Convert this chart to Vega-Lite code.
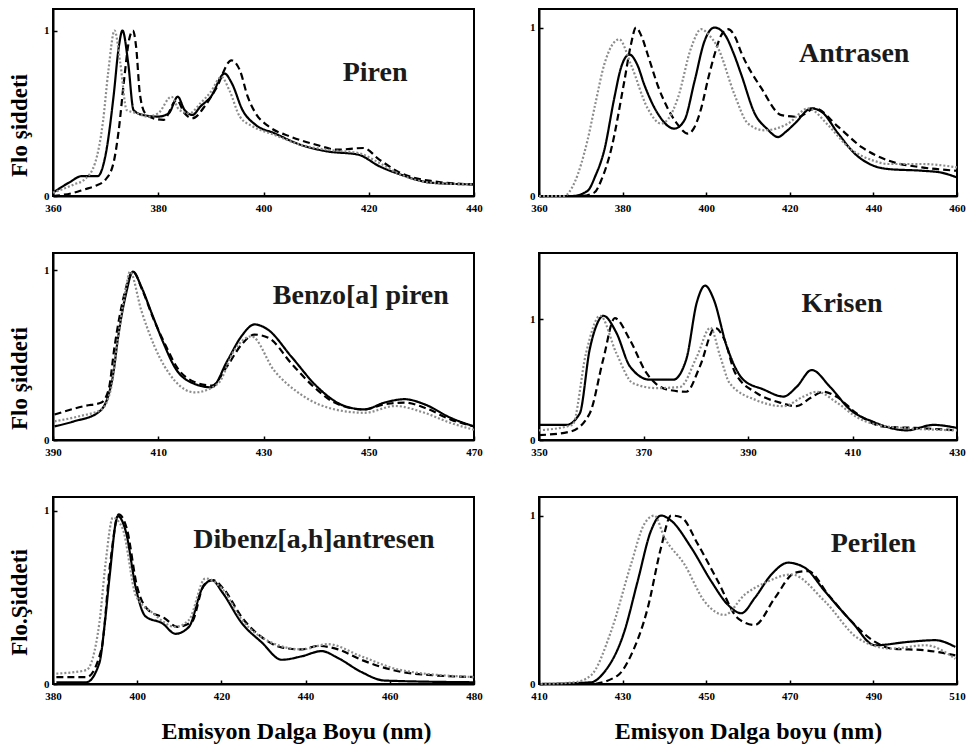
{
  "$schema": "https://vega.github.io/schema/vega-lite/v6.json",
  "background": "white",
  "padding": {"left": 7, "top": 8, "right": 10, "bottom": 4},
  "config": {
    "view": {"stroke": "black", "strokeWidth": 2},
    "text": {"font": "Liberation Serif"},
    "axis": {"labelFont": "Liberation Serif", "labelFontWeight": "bold", "labelFontSize": 11, "labelColor": "black", "titleFont": "Liberation Serif", "titleFontWeight": "bold", "titleColor": "black", "domainColor": "black", "domainWidth": 2, "tickColor": "black", "tickSize": -4, "tickWidth": 1.5, "grid": false, "labelFlush": false, "labelOverlap": false, "format": "d"},
    "axisX": {"labelPadding": 10},
    "axisY": {"titleFontSize": 23, "titlePadding": 12, "labelPadding": 8, "titleY": 116}
  },
  "datasets": {
    "curves": [
      {"p":1,"s":"a","x":360,"y":0.02},{"p":1,"s":"a","x":363,"y":0.08},{"p":1,"s":"a","x":365.5,"y":0.12},{"p":1,"s":"a","x":368.5,"y":0.12},{"p":1,"s":"a","x":370,"y":0.25},{"p":1,"s":"a","x":371.5,"y":0.6},{"p":1,"s":"a","x":372.5,"y":0.9},{"p":1,"s":"a","x":373.2,"y":1.0},{"p":1,"s":"a","x":374.3,"y":0.8},{"p":1,"s":"a","x":375.3,"y":0.52},{"p":1,"s":"a","x":377,"y":0.49},{"p":1,"s":"a","x":380,"y":0.48},{"p":1,"s":"a","x":382,"y":0.5},{"p":1,"s":"a","x":383.7,"y":0.6},{"p":1,"s":"a","x":385,"y":0.52},{"p":1,"s":"a","x":386.5,"y":0.49},{"p":1,"s":"a","x":388,"y":0.54},{"p":1,"s":"a","x":390,"y":0.6},{"p":1,"s":"a","x":392.6,"y":0.74},{"p":1,"s":"a","x":394,"y":0.68},{"p":1,"s":"a","x":396,"y":0.52},{"p":1,"s":"a","x":398.5,"y":0.43},{"p":1,"s":"a","x":402,"y":0.38},{"p":1,"s":"a","x":407,"y":0.31},{"p":1,"s":"a","x":412,"y":0.27},{"p":1,"s":"a","x":418,"y":0.25},{"p":1,"s":"a","x":422,"y":0.18},{"p":1,"s":"a","x":426,"y":0.13},{"p":1,"s":"a","x":432,"y":0.08},{"p":1,"s":"a","x":440,"y":0.07},
      {"p":1,"s":"b","x":360,"y":0.0},{"p":1,"s":"b","x":364,"y":0.02},{"p":1,"s":"b","x":366,"y":0.04},{"p":1,"s":"b","x":368,"y":0.06},{"p":1,"s":"b","x":370,"y":0.1},{"p":1,"s":"b","x":371.5,"y":0.2},{"p":1,"s":"b","x":372.5,"y":0.4},{"p":1,"s":"b","x":373.5,"y":0.7},{"p":1,"s":"b","x":374.5,"y":0.95},{"p":1,"s":"b","x":375.2,"y":1.0},{"p":1,"s":"b","x":375.8,"y":0.9},{"p":1,"s":"b","x":376.5,"y":0.62},{"p":1,"s":"b","x":377.5,"y":0.5},{"p":1,"s":"b","x":379,"y":0.47},{"p":1,"s":"b","x":381,"y":0.46},{"p":1,"s":"b","x":383.5,"y":0.58},{"p":1,"s":"b","x":385,"y":0.5},{"p":1,"s":"b","x":386.5,"y":0.47},{"p":1,"s":"b","x":389,"y":0.55},{"p":1,"s":"b","x":391,"y":0.65},{"p":1,"s":"b","x":393.9,"y":0.82},{"p":1,"s":"b","x":395.5,"y":0.76},{"p":1,"s":"b","x":397,"y":0.6},{"p":1,"s":"b","x":398.5,"y":0.5},{"p":1,"s":"b","x":401,"y":0.42},{"p":1,"s":"b","x":405,"y":0.36},{"p":1,"s":"b","x":410,"y":0.31},{"p":1,"s":"b","x":414,"y":0.28},{"p":1,"s":"b","x":419,"y":0.29},{"p":1,"s":"b","x":422,"y":0.22},{"p":1,"s":"b","x":426,"y":0.14},{"p":1,"s":"b","x":432,"y":0.09},{"p":1,"s":"b","x":440,"y":0.07},
      {"p":1,"s":"c","x":360,"y":0.02},{"p":1,"s":"c","x":364,"y":0.07},{"p":1,"s":"c","x":366,"y":0.1},{"p":1,"s":"c","x":368,"y":0.2},{"p":1,"s":"c","x":369.5,"y":0.45},{"p":1,"s":"c","x":370.5,"y":0.75},{"p":1,"s":"c","x":371.7,"y":1.0},{"p":1,"s":"c","x":372.8,"y":0.8},{"p":1,"s":"c","x":374,"y":0.52},{"p":1,"s":"c","x":376,"y":0.5},{"p":1,"s":"c","x":378,"y":0.48},{"p":1,"s":"c","x":380,"y":0.5},{"p":1,"s":"c","x":382.5,"y":0.6},{"p":1,"s":"c","x":384,"y":0.52},{"p":1,"s":"c","x":386,"y":0.5},{"p":1,"s":"c","x":388,"y":0.56},{"p":1,"s":"c","x":390,"y":0.63},{"p":1,"s":"c","x":392,"y":0.72},{"p":1,"s":"c","x":393.5,"y":0.64},{"p":1,"s":"c","x":395.5,"y":0.48},{"p":1,"s":"c","x":398,"y":0.42},{"p":1,"s":"c","x":402,"y":0.37},{"p":1,"s":"c","x":407,"y":0.31},{"p":1,"s":"c","x":412,"y":0.28},{"p":1,"s":"c","x":418,"y":0.26},{"p":1,"s":"c","x":422,"y":0.2},{"p":1,"s":"c","x":426,"y":0.13},{"p":1,"s":"c","x":432,"y":0.08},{"p":1,"s":"c","x":440,"y":0.07},

      {"p":2,"s":"a","x":360,"y":0.0},{"p":2,"s":"a","x":368,"y":0.0},{"p":2,"s":"a","x":371.6,"y":0.03},{"p":2,"s":"a","x":373.5,"y":0.12},{"p":2,"s":"a","x":375.6,"y":0.27},{"p":2,"s":"a","x":378,"y":0.58},{"p":2,"s":"a","x":379.6,"y":0.76},{"p":2,"s":"a","x":381.6,"y":0.84},{"p":2,"s":"a","x":383.5,"y":0.78},{"p":2,"s":"a","x":385.2,"y":0.66},{"p":2,"s":"a","x":388.4,"y":0.49},{"p":2,"s":"a","x":392.4,"y":0.4},{"p":2,"s":"a","x":394.8,"y":0.45},{"p":2,"s":"a","x":397.2,"y":0.68},{"p":2,"s":"a","x":399.6,"y":0.92},{"p":2,"s":"a","x":402,"y":1.0},{"p":2,"s":"a","x":404.4,"y":0.96},{"p":2,"s":"a","x":406.5,"y":0.85},{"p":2,"s":"a","x":408.4,"y":0.72},{"p":2,"s":"a","x":411.6,"y":0.49},{"p":2,"s":"a","x":414.5,"y":0.4},{"p":2,"s":"a","x":417.2,"y":0.35},{"p":2,"s":"a","x":419,"y":0.38},{"p":2,"s":"a","x":421.2,"y":0.43},{"p":2,"s":"a","x":425.2,"y":0.52},{"p":2,"s":"a","x":427.6,"y":0.5},{"p":2,"s":"a","x":431.6,"y":0.37},{"p":2,"s":"a","x":435.6,"y":0.25},{"p":2,"s":"a","x":440,"y":0.18},{"p":2,"s":"a","x":443.6,"y":0.16},{"p":2,"s":"a","x":451.6,"y":0.15},{"p":2,"s":"a","x":456,"y":0.14},{"p":2,"s":"a","x":460,"y":0.11},
      {"p":2,"s":"b","x":360,"y":0.0},{"p":2,"s":"b","x":370,"y":0.0},{"p":2,"s":"b","x":373.2,"y":0.02},{"p":2,"s":"b","x":375,"y":0.1},{"p":2,"s":"b","x":377.2,"y":0.27},{"p":2,"s":"b","x":380.4,"y":0.68},{"p":2,"s":"b","x":382,"y":0.9},{"p":2,"s":"b","x":383.2,"y":1.0},{"p":2,"s":"b","x":384.5,"y":0.95},{"p":2,"s":"b","x":386,"y":0.84},{"p":2,"s":"b","x":388.5,"y":0.65},{"p":2,"s":"b","x":390.8,"y":0.52},{"p":2,"s":"b","x":393,"y":0.43},{"p":2,"s":"b","x":395.6,"y":0.37},{"p":2,"s":"b","x":397,"y":0.4},{"p":2,"s":"b","x":398.8,"y":0.52},{"p":2,"s":"b","x":400.5,"y":0.7},{"p":2,"s":"b","x":402,"y":0.84},{"p":2,"s":"b","x":403.5,"y":0.95},{"p":2,"s":"b","x":405.2,"y":0.99},{"p":2,"s":"b","x":406.8,"y":0.95},{"p":2,"s":"b","x":408.4,"y":0.85},{"p":2,"s":"b","x":413.2,"y":0.64},{"p":2,"s":"b","x":418,"y":0.48},{"p":2,"s":"b","x":422,"y":0.47},{"p":2,"s":"b","x":426,"y":0.52},{"p":2,"s":"b","x":431.6,"y":0.41},{"p":2,"s":"b","x":437.2,"y":0.29},{"p":2,"s":"b","x":443.6,"y":0.21},{"p":2,"s":"b","x":451.6,"y":0.17},{"p":2,"s":"b","x":460,"y":0.15},
      {"p":2,"s":"c","x":360,"y":0.0},{"p":2,"s":"c","x":366,"y":0.0},{"p":2,"s":"c","x":368.5,"y":0.08},{"p":2,"s":"c","x":371.6,"y":0.33},{"p":2,"s":"c","x":373.5,"y":0.55},{"p":2,"s":"c","x":375.6,"y":0.78},{"p":2,"s":"c","x":379.2,"y":0.93},{"p":2,"s":"c","x":382,"y":0.78},{"p":2,"s":"c","x":386,"y":0.52},{"p":2,"s":"c","x":389.2,"y":0.43},{"p":2,"s":"c","x":391,"y":0.46},{"p":2,"s":"c","x":393.2,"y":0.58},{"p":2,"s":"c","x":396.4,"y":0.88},{"p":2,"s":"c","x":398.8,"y":0.99},{"p":2,"s":"c","x":400.5,"y":0.96},{"p":2,"s":"c","x":402.8,"y":0.88},{"p":2,"s":"c","x":406.8,"y":0.6},{"p":2,"s":"c","x":410,"y":0.43},{"p":2,"s":"c","x":414,"y":0.39},{"p":2,"s":"c","x":419.6,"y":0.43},{"p":2,"s":"c","x":424.4,"y":0.52},{"p":2,"s":"c","x":429.2,"y":0.42},{"p":2,"s":"c","x":434,"y":0.29},{"p":2,"s":"c","x":440,"y":0.21},{"p":2,"s":"c","x":443.6,"y":0.19},{"p":2,"s":"c","x":451.6,"y":0.19},{"p":2,"s":"c","x":460,"y":0.17},

      {"p":3,"s":"a","x":390.3,"y":0.08},{"p":3,"s":"a","x":394,"y":0.11},{"p":3,"s":"a","x":398.5,"y":0.16},{"p":3,"s":"a","x":400.4,"y":0.25},{"p":3,"s":"a","x":401.5,"y":0.4},{"p":3,"s":"a","x":402.3,"y":0.59},{"p":3,"s":"a","x":403.8,"y":0.85},{"p":3,"s":"a","x":405.2,"y":0.99},{"p":3,"s":"a","x":406.8,"y":0.9},{"p":3,"s":"a","x":408.7,"y":0.75},{"p":3,"s":"a","x":411,"y":0.57},{"p":3,"s":"a","x":413.1,"y":0.43},{"p":3,"s":"a","x":416.9,"y":0.33},{"p":3,"s":"a","x":420.1,"y":0.31},{"p":3,"s":"a","x":423.2,"y":0.47},{"p":3,"s":"a","x":425.8,"y":0.61},{"p":3,"s":"a","x":428.3,"y":0.68},{"p":3,"s":"a","x":430.8,"y":0.65},{"p":3,"s":"a","x":435.3,"y":0.49},{"p":3,"s":"a","x":440.3,"y":0.31},{"p":3,"s":"a","x":445.4,"y":0.2},{"p":3,"s":"a","x":449.2,"y":0.18},{"p":3,"s":"a","x":453,"y":0.22},{"p":3,"s":"a","x":456.8,"y":0.24},{"p":3,"s":"a","x":460.6,"y":0.21},{"p":3,"s":"a","x":465.6,"y":0.13},{"p":3,"s":"a","x":470,"y":0.08},
      {"p":3,"s":"b","x":390.3,"y":0.15},{"p":3,"s":"b","x":396,"y":0.2},{"p":3,"s":"b","x":399.2,"y":0.22},{"p":3,"s":"b","x":400.6,"y":0.3},{"p":3,"s":"b","x":401.7,"y":0.55},{"p":3,"s":"b","x":403.5,"y":0.85},{"p":3,"s":"b","x":405.2,"y":0.99},{"p":3,"s":"b","x":407,"y":0.88},{"p":3,"s":"b","x":409,"y":0.72},{"p":3,"s":"b","x":411.5,"y":0.55},{"p":3,"s":"b","x":413.5,"y":0.43},{"p":3,"s":"b","x":417,"y":0.34},{"p":3,"s":"b","x":420.2,"y":0.32},{"p":3,"s":"b","x":423,"y":0.43},{"p":3,"s":"b","x":425.8,"y":0.56},{"p":3,"s":"b","x":428.3,"y":0.62},{"p":3,"s":"b","x":431,"y":0.6},{"p":3,"s":"b","x":435.3,"y":0.45},{"p":3,"s":"b","x":440,"y":0.3},{"p":3,"s":"b","x":443.5,"y":0.22},{"p":3,"s":"b","x":449,"y":0.18},{"p":3,"s":"b","x":453,"y":0.21},{"p":3,"s":"b","x":456.8,"y":0.22},{"p":3,"s":"b","x":460.6,"y":0.19},{"p":3,"s":"b","x":465.6,"y":0.12},{"p":3,"s":"b","x":470,"y":0.08},
      {"p":3,"s":"c","x":390.3,"y":0.11},{"p":3,"s":"c","x":395,"y":0.14},{"p":3,"s":"c","x":399.2,"y":0.18},{"p":3,"s":"c","x":401,"y":0.3},{"p":3,"s":"c","x":402.3,"y":0.59},{"p":3,"s":"c","x":403.8,"y":0.88},{"p":3,"s":"c","x":404.6,"y":0.99},{"p":3,"s":"c","x":406.8,"y":0.76},{"p":3,"s":"c","x":409.3,"y":0.55},{"p":3,"s":"c","x":413.1,"y":0.35},{"p":3,"s":"c","x":416.9,"y":0.28},{"p":3,"s":"c","x":421.3,"y":0.33},{"p":3,"s":"c","x":424.5,"y":0.53},{"p":3,"s":"c","x":427.7,"y":0.61},{"p":3,"s":"c","x":432,"y":0.41},{"p":3,"s":"c","x":437,"y":0.27},{"p":3,"s":"c","x":443.5,"y":0.18},{"p":3,"s":"c","x":449.2,"y":0.16},{"p":3,"s":"c","x":455,"y":0.2},{"p":3,"s":"c","x":460.6,"y":0.16},{"p":3,"s":"c","x":465.6,"y":0.1},{"p":3,"s":"c","x":470,"y":0.06},

      {"p":4,"s":"a","x":350,"y":0.125},{"p":4,"s":"a","x":355.2,"y":0.125},{"p":4,"s":"a","x":357.8,"y":0.22},{"p":4,"s":"a","x":359.7,"y":0.75},{"p":4,"s":"a","x":361,"y":0.95},{"p":4,"s":"a","x":362.3,"y":1.03},{"p":4,"s":"a","x":364.8,"y":0.89},{"p":4,"s":"a","x":367.4,"y":0.61},{"p":4,"s":"a","x":371.2,"y":0.5},{"p":4,"s":"a","x":375.7,"y":0.5},{"p":4,"s":"a","x":378.2,"y":0.67},{"p":4,"s":"a","x":380.2,"y":1.14},{"p":4,"s":"a","x":381.8,"y":1.28},{"p":4,"s":"a","x":383.4,"y":1.17},{"p":4,"s":"a","x":385.9,"y":0.78},{"p":4,"s":"a","x":389.1,"y":0.5},{"p":4,"s":"a","x":392.9,"y":0.42},{"p":4,"s":"a","x":396.8,"y":0.36},{"p":4,"s":"a","x":399.3,"y":0.44},{"p":4,"s":"a","x":402.2,"y":0.58},{"p":4,"s":"a","x":405.7,"y":0.44},{"p":4,"s":"a","x":409.6,"y":0.25},{"p":4,"s":"a","x":414,"y":0.15},{"p":4,"s":"a","x":420.4,"y":0.08},{"p":4,"s":"a","x":425.5,"y":0.125},{"p":4,"s":"a","x":430,"y":0.1},
      {"p":4,"s":"b","x":350,"y":0.04},{"p":4,"s":"b","x":356,"y":0.07},{"p":4,"s":"b","x":359.7,"y":0.22},{"p":4,"s":"b","x":362.3,"y":0.67},{"p":4,"s":"b","x":364.5,"y":1.01},{"p":4,"s":"b","x":367.4,"y":0.83},{"p":4,"s":"b","x":370.5,"y":0.56},{"p":4,"s":"b","x":374.4,"y":0.42},{"p":4,"s":"b","x":378.2,"y":0.4},{"p":4,"s":"b","x":380.8,"y":0.61},{"p":4,"s":"b","x":383.7,"y":0.93},{"p":4,"s":"b","x":385.5,"y":0.83},{"p":4,"s":"b","x":387.5,"y":0.56},{"p":4,"s":"b","x":391.6,"y":0.39},{"p":4,"s":"b","x":396.1,"y":0.31},{"p":4,"s":"b","x":399.3,"y":0.28},{"p":4,"s":"b","x":402,"y":0.35},{"p":4,"s":"b","x":404.4,"y":0.4},{"p":4,"s":"b","x":406.9,"y":0.36},{"p":4,"s":"b","x":410.8,"y":0.22},{"p":4,"s":"b","x":416,"y":0.11},{"p":4,"s":"b","x":422,"y":0.1},{"p":4,"s":"b","x":430,"y":0.08},
      {"p":4,"s":"c","x":350,"y":0.08},{"p":4,"s":"c","x":356.4,"y":0.125},{"p":4,"s":"c","x":359,"y":0.72},{"p":4,"s":"c","x":361.7,"y":1.03},{"p":4,"s":"c","x":364.8,"y":0.72},{"p":4,"s":"c","x":368,"y":0.47},{"p":4,"s":"c","x":372.5,"y":0.43},{"p":4,"s":"c","x":377,"y":0.44},{"p":4,"s":"c","x":380.2,"y":0.69},{"p":4,"s":"c","x":382.8,"y":0.93},{"p":4,"s":"c","x":384.7,"y":0.69},{"p":4,"s":"c","x":386.5,"y":0.47},{"p":4,"s":"c","x":391.6,"y":0.33},{"p":4,"s":"c","x":396.8,"y":0.28},{"p":4,"s":"c","x":400.6,"y":0.36},{"p":4,"s":"c","x":403.2,"y":0.4},{"p":4,"s":"c","x":407,"y":0.31},{"p":4,"s":"c","x":410.8,"y":0.19},{"p":4,"s":"c","x":417,"y":0.11},{"p":4,"s":"c","x":430,"y":0.08},

      {"p":5,"s":"a","x":380.8,"y":0.01},{"p":5,"s":"a","x":387.9,"y":0.01},{"p":5,"s":"a","x":391,"y":0.12},{"p":5,"s":"a","x":392.3,"y":0.35},{"p":5,"s":"a","x":393.4,"y":0.61},{"p":5,"s":"a","x":395.4,"y":0.97},{"p":5,"s":"a","x":397.3,"y":0.88},{"p":5,"s":"a","x":399.7,"y":0.55},{"p":5,"s":"a","x":402,"y":0.39},{"p":5,"s":"a","x":406,"y":0.35},{"p":5,"s":"a","x":409.1,"y":0.29},{"p":5,"s":"a","x":412.3,"y":0.33},{"p":5,"s":"a","x":415.4,"y":0.55},{"p":5,"s":"a","x":417.8,"y":0.6},{"p":5,"s":"a","x":420.2,"y":0.53},{"p":5,"s":"a","x":424.9,"y":0.35},{"p":5,"s":"a","x":429.6,"y":0.24},{"p":5,"s":"a","x":434.3,"y":0.14},{"p":5,"s":"a","x":439.1,"y":0.16},{"p":5,"s":"a","x":443.8,"y":0.19},{"p":5,"s":"a","x":447.7,"y":0.15},{"p":5,"s":"a","x":453.2,"y":0.07},{"p":5,"s":"a","x":458.7,"y":0.02},{"p":5,"s":"a","x":480,"y":0.01},
      {"p":5,"s":"b","x":380.8,"y":0.04},{"p":5,"s":"b","x":388,"y":0.04},{"p":5,"s":"b","x":391.5,"y":0.2},{"p":5,"s":"b","x":393.6,"y":0.7},{"p":5,"s":"b","x":395.6,"y":0.98},{"p":5,"s":"b","x":397.5,"y":0.9},{"p":5,"s":"b","x":400,"y":0.56},{"p":5,"s":"b","x":402.5,"y":0.43},{"p":5,"s":"b","x":406.5,"y":0.38},{"p":5,"s":"b","x":409.5,"y":0.33},{"p":5,"s":"b","x":413,"y":0.36},{"p":5,"s":"b","x":415.8,"y":0.57},{"p":5,"s":"b","x":418,"y":0.6},{"p":5,"s":"b","x":420.5,"y":0.55},{"p":5,"s":"b","x":425,"y":0.38},{"p":5,"s":"b","x":429.6,"y":0.27},{"p":5,"s":"b","x":434.5,"y":0.21},{"p":5,"s":"b","x":439.1,"y":0.2},{"p":5,"s":"b","x":443,"y":0.22},{"p":5,"s":"b","x":447.7,"y":0.2},{"p":5,"s":"b","x":453.2,"y":0.14},{"p":5,"s":"b","x":462.7,"y":0.07},{"p":5,"s":"b","x":470.5,"y":0.05},{"p":5,"s":"b","x":480,"y":0.04},
      {"p":5,"s":"c","x":380.8,"y":0.06},{"p":5,"s":"c","x":387.9,"y":0.08},{"p":5,"s":"c","x":391,"y":0.35},{"p":5,"s":"c","x":392.5,"y":0.7},{"p":5,"s":"c","x":394.2,"y":0.96},{"p":5,"s":"c","x":396.5,"y":0.9},{"p":5,"s":"c","x":399.7,"y":0.51},{"p":5,"s":"c","x":403.7,"y":0.41},{"p":5,"s":"c","x":409.1,"y":0.33},{"p":5,"s":"c","x":412.3,"y":0.37},{"p":5,"s":"c","x":416.2,"y":0.61},{"p":5,"s":"c","x":420.2,"y":0.55},{"p":5,"s":"c","x":424.9,"y":0.37},{"p":5,"s":"c","x":431,"y":0.25},{"p":5,"s":"c","x":439.1,"y":0.2},{"p":5,"s":"c","x":445.3,"y":0.23},{"p":5,"s":"c","x":453.2,"y":0.16},{"p":5,"s":"c","x":462.7,"y":0.08},{"p":5,"s":"c","x":480,"y":0.04},

      {"p":6,"s":"a","x":410.4,"y":0.0},{"p":6,"s":"a","x":422.4,"y":0.01},{"p":6,"s":"a","x":425.6,"y":0.07},{"p":6,"s":"a","x":430.4,"y":0.31},{"p":6,"s":"a","x":433.6,"y":0.61},{"p":6,"s":"a","x":436.8,"y":0.91},{"p":6,"s":"a","x":439.2,"y":1.0},{"p":6,"s":"a","x":441.6,"y":0.97},{"p":6,"s":"a","x":446.4,"y":0.81},{"p":6,"s":"a","x":451.2,"y":0.61},{"p":6,"s":"a","x":455.2,"y":0.47},{"p":6,"s":"a","x":458.4,"y":0.42},{"p":6,"s":"a","x":461.6,"y":0.51},{"p":6,"s":"a","x":465.6,"y":0.65},{"p":6,"s":"a","x":469.6,"y":0.72},{"p":6,"s":"a","x":473.6,"y":0.69},{"p":6,"s":"a","x":478.4,"y":0.55},{"p":6,"s":"a","x":484.8,"y":0.37},{"p":6,"s":"a","x":490.4,"y":0.23},{"p":6,"s":"a","x":498.4,"y":0.25},{"p":6,"s":"a","x":504.8,"y":0.26},{"p":6,"s":"a","x":509.6,"y":0.22},
      {"p":6,"s":"b","x":410.4,"y":0.0},{"p":6,"s":"b","x":422.4,"y":0.0},{"p":6,"s":"b","x":428.8,"y":0.05},{"p":6,"s":"b","x":432,"y":0.17},{"p":6,"s":"b","x":436,"y":0.45},{"p":6,"s":"b","x":439.2,"y":0.81},{"p":6,"s":"b","x":441.6,"y":1.0},{"p":6,"s":"b","x":444,"y":0.99},{"p":6,"s":"b","x":448,"y":0.83},{"p":6,"s":"b","x":452.8,"y":0.61},{"p":6,"s":"b","x":457.6,"y":0.39},{"p":6,"s":"b","x":461.6,"y":0.35},{"p":6,"s":"b","x":466.4,"y":0.51},{"p":6,"s":"b","x":471.2,"y":0.66},{"p":6,"s":"b","x":474.4,"y":0.67},{"p":6,"s":"b","x":479.2,"y":0.53},{"p":6,"s":"b","x":484.8,"y":0.37},{"p":6,"s":"b","x":490.4,"y":0.25},{"p":6,"s":"b","x":494.4,"y":0.21},{"p":6,"s":"b","x":502.4,"y":0.2},{"p":6,"s":"b","x":509.6,"y":0.17},
      {"p":6,"s":"c","x":410.4,"y":0.0},{"p":6,"s":"c","x":418.4,"y":0.01},{"p":6,"s":"c","x":422.4,"y":0.05},{"p":6,"s":"c","x":427.2,"y":0.31},{"p":6,"s":"c","x":432,"y":0.71},{"p":6,"s":"c","x":435.2,"y":0.95},{"p":6,"s":"c","x":437.6,"y":1.0},{"p":6,"s":"c","x":440,"y":0.87},{"p":6,"s":"c","x":444.8,"y":0.71},{"p":6,"s":"c","x":449.6,"y":0.49},{"p":6,"s":"c","x":454.4,"y":0.41},{"p":6,"s":"c","x":459.2,"y":0.53},{"p":6,"s":"c","x":464,"y":0.6},{"p":6,"s":"c","x":470.4,"y":0.65},{"p":6,"s":"c","x":478.4,"y":0.49},{"p":6,"s":"c","x":486.4,"y":0.27},{"p":6,"s":"c","x":494.4,"y":0.21},{"p":6,"s":"c","x":502.4,"y":0.23},{"p":6,"s":"c","x":509.6,"y":0.15}
    ],
    "labels": [
      {"p":1,"t":"Piren","x":421.2,"y":0.745},
      {"p":2,"t":"Antrasen","x":435.4,"y":0.845},
      {"p":3,"t":"Benzo[a] piren","x":448.5,"y":0.85},
      {"p":4,"t":"Krisen","x":408,"y":1.125},
      {"p":5,"t":"Dibenz[a,h]antresen","x":442,"y":0.83},
      {"p":6,"t":"Perilen","x":490,"y":0.83}
    ]
  },
  "resolve": {"scale": {"x": "independent", "y": "independent"}},
  "columns": 2,
  "spacing": {"row": 38, "column": 44},
  "concat": [
    {
      "width": 421, "height": 187,
      "layer": [
        {"data": {"name": "curves"}, "transform": [{"filter": "datum.p == 1"}],
         "mark": {"type": "line", "interpolate": "monotone"},
         "encoding": {
           "x": {"field": "x", "type": "quantitative", "scale": {"domain": [360, 440], "nice": false, "zero": false}, "axis": {"values": [360, 380, 400, 420, 440], "title": null}},
           "y": {"field": "y", "type": "quantitative", "scale": {"domain": [0, 1.13], "nice": false}, "axis": {"values": [0, 1], "title": "Flo şiddeti"}},
           "color": {"field": "s", "type": "nominal", "scale": {"domain": ["a", "b", "c"], "range": ["#000000", "#000000", "#8c8c8c"]}, "legend": null},
           "strokeDash": {"field": "s", "type": "nominal", "scale": {"domain": ["a", "b", "c"], "range": [[1, 0], [7, 4], [2, 2]]}, "legend": null},
           "strokeWidth": {"field": "s", "type": "nominal", "scale": {"domain": ["a", "b", "c"], "range": [2.2, 2.2, 1.6]}, "legend": null}
         }},
        {"data": {"name": "labels"}, "transform": [{"filter": "datum.p == 1"}],
         "mark": {"type": "text", "font": "Liberation Serif", "fontWeight": "bold", "fontSize": 28, "color": "#1a1a1a", "align": "center", "baseline": "middle"},
         "encoding": {"x": {"field": "x", "type": "quantitative"}, "y": {"field": "y", "type": "quantitative"}, "text": {"field": "t"}}}
      ]
    },
    {
      "width": 418, "height": 187,
      "layer": [
        {"data": {"name": "curves"}, "transform": [{"filter": "datum.p == 2"}],
         "mark": {"type": "line", "interpolate": "monotone"},
         "encoding": {
           "x": {"field": "x", "type": "quantitative", "scale": {"domain": [360, 460], "nice": false, "zero": false}, "axis": {"values": [360, 380, 400, 420, 440, 460], "title": null}},
           "y": {"field": "y", "type": "quantitative", "scale": {"domain": [0, 1.11], "nice": false}, "axis": {"values": [0, 1], "title": null}},
           "color": {"field": "s", "type": "nominal", "scale": {"domain": ["a", "b", "c"], "range": ["#000000", "#000000", "#8c8c8c"]}, "legend": null},
           "strokeDash": {"field": "s", "type": "nominal", "scale": {"domain": ["a", "b", "c"], "range": [[1, 0], [7, 4], [2, 2]]}, "legend": null},
           "strokeWidth": {"field": "s", "type": "nominal", "scale": {"domain": ["a", "b", "c"], "range": [2.2, 2.2, 1.6]}, "legend": null}
         }},
        {"data": {"name": "labels"}, "transform": [{"filter": "datum.p == 2"}],
         "mark": {"type": "text", "font": "Liberation Serif", "fontWeight": "bold", "fontSize": 28, "color": "#1a1a1a", "align": "center", "baseline": "middle"},
         "encoding": {"x": {"field": "x", "type": "quantitative"}, "y": {"field": "y", "type": "quantitative"}, "text": {"field": "t"}}}
      ]
    },
    {
      "width": 421, "height": 187,
      "layer": [
        {"data": {"name": "curves"}, "transform": [{"filter": "datum.p == 3"}],
         "mark": {"type": "line", "interpolate": "monotone"},
         "encoding": {
           "x": {"field": "x", "type": "quantitative", "scale": {"domain": [390, 470], "nice": false, "zero": false}, "axis": {"values": [390, 410, 430, 450, 470], "title": null}},
           "y": {"field": "y", "type": "quantitative", "scale": {"domain": [0, 1.1], "nice": false}, "axis": {"values": [0, 1], "title": "Flo şiddeti", "titleY": 125}},
           "color": {"field": "s", "type": "nominal", "scale": {"domain": ["a", "b", "c"], "range": ["#000000", "#000000", "#8c8c8c"]}, "legend": null},
           "strokeDash": {"field": "s", "type": "nominal", "scale": {"domain": ["a", "b", "c"], "range": [[1, 0], [7, 4], [2, 2]]}, "legend": null},
           "strokeWidth": {"field": "s", "type": "nominal", "scale": {"domain": ["a", "b", "c"], "range": [2.2, 2.2, 1.6]}, "legend": null}
         }},
        {"data": {"name": "labels"}, "transform": [{"filter": "datum.p == 3"}],
         "mark": {"type": "text", "font": "Liberation Serif", "fontWeight": "bold", "fontSize": 28, "color": "#1a1a1a", "align": "center", "baseline": "middle"},
         "encoding": {"x": {"field": "x", "type": "quantitative"}, "y": {"field": "y", "type": "quantitative"}, "text": {"field": "t"}}}
      ]
    },
    {
      "width": 418, "height": 187,
      "layer": [
        {"data": {"name": "curves"}, "transform": [{"filter": "datum.p == 4"}],
         "mark": {"type": "line", "interpolate": "monotone"},
         "encoding": {
           "x": {"field": "x", "type": "quantitative", "scale": {"domain": [350, 430], "nice": false, "zero": false}, "axis": {"values": [350, 370, 390, 410, 430], "title": null}},
           "y": {"field": "y", "type": "quantitative", "scale": {"domain": [0, 1.55], "nice": false}, "axis": {"values": [0, 1], "title": null}},
           "color": {"field": "s", "type": "nominal", "scale": {"domain": ["a", "b", "c"], "range": ["#000000", "#000000", "#8c8c8c"]}, "legend": null},
           "strokeDash": {"field": "s", "type": "nominal", "scale": {"domain": ["a", "b", "c"], "range": [[1, 0], [7, 4], [2, 2]]}, "legend": null},
           "strokeWidth": {"field": "s", "type": "nominal", "scale": {"domain": ["a", "b", "c"], "range": [2.2, 2.2, 1.6]}, "legend": null}
         }},
        {"data": {"name": "labels"}, "transform": [{"filter": "datum.p == 4"}],
         "mark": {"type": "text", "font": "Liberation Serif", "fontWeight": "bold", "fontSize": 28, "color": "#1a1a1a", "align": "center", "baseline": "middle"},
         "encoding": {"x": {"field": "x", "type": "quantitative"}, "y": {"field": "y", "type": "quantitative"}, "text": {"field": "t"}}}
      ]
    },
    {
      "width": 421, "height": 187,
      "layer": [
        {"data": {"name": "curves"}, "transform": [{"filter": "datum.p == 5"}],
         "mark": {"type": "line", "interpolate": "monotone"},
         "encoding": {
           "x": {"field": "x", "type": "quantitative", "scale": {"domain": [380, 480], "nice": false, "zero": false}, "axis": {"values": [380, 400, 420, 440, 460, 480], "title": "Emisyon Dalga Boyu (nm)", "titleFontSize": 24, "titlePadding": 18, "titleX": 243}},
           "y": {"field": "y", "type": "quantitative", "scale": {"domain": [0, 1.08], "nice": false}, "axis": {"values": [0, 1], "title": "Flo.Şiddeti", "titleY": 105}},
           "color": {"field": "s", "type": "nominal", "scale": {"domain": ["a", "b", "c"], "range": ["#000000", "#000000", "#8c8c8c"]}, "legend": null},
           "strokeDash": {"field": "s", "type": "nominal", "scale": {"domain": ["a", "b", "c"], "range": [[1, 0], [7, 4], [2, 2]]}, "legend": null},
           "strokeWidth": {"field": "s", "type": "nominal", "scale": {"domain": ["a", "b", "c"], "range": [2.2, 2.2, 1.6]}, "legend": null}
         }},
        {"data": {"name": "labels"}, "transform": [{"filter": "datum.p == 5"}],
         "mark": {"type": "text", "font": "Liberation Serif", "fontWeight": "bold", "fontSize": 28, "color": "#1a1a1a", "align": "center", "baseline": "middle"},
         "encoding": {"x": {"field": "x", "type": "quantitative"}, "y": {"field": "y", "type": "quantitative"}, "text": {"field": "t"}}}
      ]
    },
    {
      "width": 418, "height": 187,
      "layer": [
        {"data": {"name": "curves"}, "transform": [{"filter": "datum.p == 6"}],
         "mark": {"type": "line", "interpolate": "monotone"},
         "encoding": {
           "x": {"field": "x", "type": "quantitative", "scale": {"domain": [410, 510], "nice": false, "zero": false}, "axis": {"values": [410, 430, 450, 470, 490, 510], "title": "Emisyon Dalga boyu (nm)", "titleFontSize": 24, "titlePadding": 18}},
           "y": {"field": "y", "type": "quantitative", "scale": {"domain": [0, 1.11], "nice": false}, "axis": {"values": [0, 1], "title": null}},
           "color": {"field": "s", "type": "nominal", "scale": {"domain": ["a", "b", "c"], "range": ["#000000", "#000000", "#8c8c8c"]}, "legend": null},
           "strokeDash": {"field": "s", "type": "nominal", "scale": {"domain": ["a", "b", "c"], "range": [[1, 0], [7, 4], [2, 2]]}, "legend": null},
           "strokeWidth": {"field": "s", "type": "nominal", "scale": {"domain": ["a", "b", "c"], "range": [2.2, 2.2, 1.6]}, "legend": null}
         }},
        {"data": {"name": "labels"}, "transform": [{"filter": "datum.p == 6"}],
         "mark": {"type": "text", "font": "Liberation Serif", "fontWeight": "bold", "fontSize": 28, "color": "#1a1a1a", "align": "center", "baseline": "middle"},
         "encoding": {"x": {"field": "x", "type": "quantitative"}, "y": {"field": "y", "type": "quantitative"}, "text": {"field": "t"}}}
      ]
    }
  ]
}
